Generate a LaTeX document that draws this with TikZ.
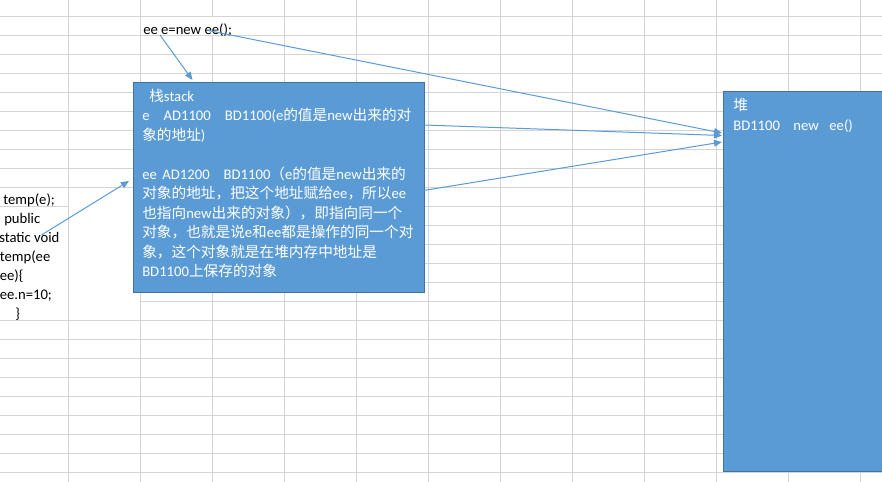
\documentclass[tikz,border=0pt]{standalone}
\usepackage{fontspec}
\setmainfont{Carlito}
\newfontfamily\cjkfont{Noto Sans CJK SC}
\newcommand{\zh}[1]{{\cjkfont #1}}
\usetikzlibrary{arrows.meta}
\definecolor{gridgray}{HTML}{D4D4D4}
\definecolor{boxblue}{HTML}{5B9BD5}
\definecolor{boxedge}{HTML}{41719C}
\definecolor{arrowblue}{HTML}{5B9BD5}
\begin{document}
\begin{tikzpicture}[x=0.75pt,y=-0.75pt,
  gridline/.style={draw=gridgray,line width=0.75pt},
  memboxstyle/.style={fill=boxblue,draw=boxedge,line width=0.9pt,inner sep=0pt,anchor=north west},
  boxtext/.style={anchor=base west,inner sep=0pt,text=white,font=\fontsize{11}{13}\selectfont},
  codetext/.style={anchor=base west,inner sep=0pt,text=black,font=\fontsize{11}{13}\selectfont},
  link/.style={draw=arrowblue,line width=0.75pt,-{Triangle[length=6pt,width=5pt]}}]
\useasboundingbox (0,0) rectangle (882,482);
\fill[white] (0,0) rectangle (882,482);
\clip (0,0) rectangle (882,482);

% spreadsheet grid: vertical lines
\foreach \k in {0,1,3,4,5,6,7,8,9,10,11} {
  \draw[gridline] (68.5+72*\k,0) -- (68.5+72*\k,482);
}
\draw[gridline] (212.5,0) -- (212.5,16.5);
\draw[gridline] (212.5,35.5) -- (212.5,482);
% horizontal lines
\foreach \k in {0,...,9} {
  \draw[gridline] (0,16.5+19*\k) -- (882,16.5+19*\k);
}
\foreach \k in {10,...,15} {
  \draw[gridline] (140.5,16.5+19*\k) -- (882,16.5+19*\k);
}
\draw[gridline] (0,206.5) -- (68.5,206.5);
\foreach \k in {16,...,24} {
  \draw[gridline] (0,16.5+19*\k) -- (882,16.5+19*\k);
}

% boxes
\node[memboxstyle,minimum width=218.25pt,minimum height=157.5pt] (stack) at (132.5,81.5) {};
\node[memboxstyle,minimum width=133pt,minimum height=285.4pt] (heap) at (722.5,90.5) {};

% stack text
\node[boxtext] (s1) at (149,101) {\zh{栈}stack};
\node[boxtext] (s2) at (142,120.5) {e\hspace{10.5pt}AD1100\hspace{10.5pt}BD1100(e\zh{的值是}new\zh{出来的对}};
\node[boxtext] (s3) at (142,140) {\zh{象的地址})};
\node[boxtext] (s5) at (142,179) {ee\hspace{4.2pt}AD1200\hspace{10.5pt}BD1100\zh{（}e\zh{的值是}new\zh{出来的}};
\node[boxtext] (s6) at (142,198.5) {\zh{对象的地址，把这个地址赋给}ee\zh{，所以}ee};
\node[boxtext] (s7) at (142,218) {\zh{也指向}new\zh{出来的对象），即指向同一个}};
\node[boxtext] (s8) at (142,237.5) {\zh{对象，也就是说}e\zh{和}ee\zh{都是操作的同一个对}};
\node[boxtext] (s9) at (142,257) {\zh{象，这个对象就是在堆内存中地址是}};
\node[boxtext] (s10) at (142,276.5) {BD1100\zh{上保存的对象}};

% heap text
\node[boxtext] (h1) at (733,110.5) {\zh{堆}};
\node[boxtext] (h2) at (733,130.5) {BD1100\hspace{10pt}new\hspace{8pt}ee()};

% code text
\node[codetext] (decl) at (143,34) {ee e=new ee();};
\node[codetext] (c1) at (3,204) {temp(e);};
\node[codetext] (c2) at (4,223) {public};
\node[codetext] (c3) at (-1,242) {static void};
\node[codetext] (c4) at (-0.5,261) {temp(ee};
\node[codetext] (c5) at (-0.5,280) {ee)\{};
\node[codetext] (c6) at (-0.5,299) {ee.n=10;};
\node[codetext] (c7) at (15,318) {\}};

% connector end points
\coordinate (declA) at (160,35);
\coordinate (declB) at (208,30.5);
\coordinate (stackTop) at (192.5,80);
\coordinate (heapIn1) at (722,133);
\coordinate (heapIn2) at (722,135.5);
\coordinate (heapIn3) at (722,142);
\coordinate (stackOut1) at (424,125);
\coordinate (stackOut2) at (423.5,190.5);
\coordinate (codeOut) at (41.5,235);
\coordinate (stackLeft) at (129,181);

\draw[link] (declA) -- (stackTop);
\draw[link] (declB) -- (heapIn1);
\draw[link] (stackOut1) -- (heapIn2);
\draw[link] (stackOut2) -- (heapIn3);
\draw[link] (codeOut) -- (stackLeft);
\end{tikzpicture}
\end{document}
